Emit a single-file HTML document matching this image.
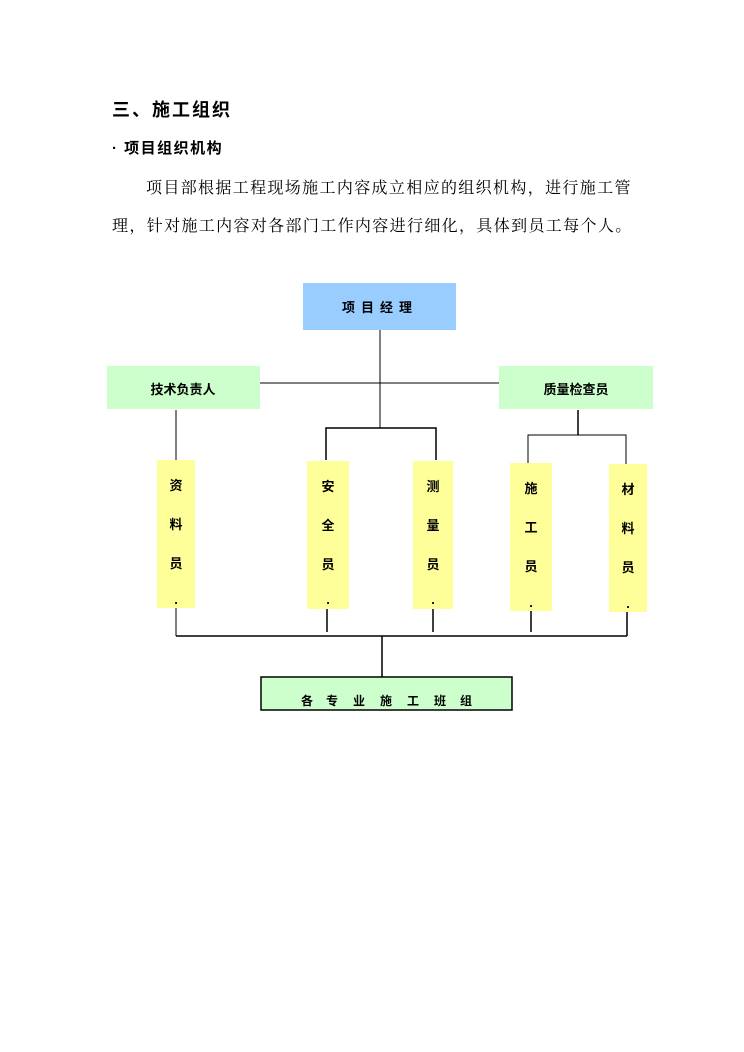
<!DOCTYPE html>
<html><head><meta charset="utf-8"><style>
body{margin:0;background:#fff;width:744px;height:1052px;position:relative;overflow:hidden;font-family:"Liberation Serif","Noto Serif CJK SC",serif;}
.t{position:absolute;white-space:nowrap;}
.c{font-family:"Noto Serif CJK SC",serif;}
</style></head><body>
<div class="t" style="left:112px;top:96px;font-size:18px;font-weight:bold;font-family:'Liberation Sans','Noto Sans CJK SC',sans-serif;letter-spacing:2px;">三、施工组织</div>
<div class="t" style="left:112px;top:137px;font-size:15px;font-weight:bold;font-family:'Liberation Sans','Noto Sans CJK SC',sans-serif;letter-spacing:1.5px;">· 项目组织机构</div>
<div class="t" style="left:146px;top:175px;font-size:16px;letter-spacing:1.35px;">项目部根据工程现场施工内容成立相应的组织机构<span class="c">，</span>进行施工管</div>
<div class="t" style="left:112px;top:213px;font-size:16px;letter-spacing:1.35px;">理<span class="c">，</span>针对施工内容对各部门工作内容进行细化<span class="c">，</span>具体到员工每个人。</div>
<svg width="744" height="1052" style="position:absolute;left:0;top:0" font-family="Liberation Sans, Noto Sans CJK SC, sans-serif" font-weight="bold">
<g stroke="#000" stroke-width="1" fill="none">
<line x1="380" y1="330" x2="380" y2="428"/>
<line x1="260" y1="383" x2="499" y2="383"/>
<line x1="176" y1="410" x2="176" y2="460"/>
<polyline points="326,460 326,428 436,428 436,460" stroke-width="1.5"/>
<line x1="578" y1="410" x2="578" y2="435" stroke-width="1.5"/>
<polyline points="528,463 528,435 626,435 626,464"/>
<line x1="176" y1="608" x2="176" y2="636"/>
<line x1="327" y1="609" x2="327" y2="632" stroke-width="1.5"/>
<line x1="433" y1="609" x2="433" y2="632" stroke-width="1.5"/>
<line x1="531" y1="611" x2="531" y2="632" stroke-width="1.5"/>
<line x1="627" y1="612" x2="627" y2="636" stroke-width="1.5"/>
<line x1="176" y1="636" x2="627" y2="636" stroke-width="1.5"/>
<line x1="382" y1="636" x2="382" y2="677" stroke-width="1.5"/>
</g>
<rect x="303" y="283" width="153" height="47" fill="#99ccff"/>
<text x="380" y="312" font-size="13" text-anchor="middle" letter-spacing="6">项目经理</text>
<rect x="107" y="366" width="153" height="43" fill="#ccffcc"/>
<text x="183" y="394" font-size="13" text-anchor="middle">技术负责人</text>
<rect x="499" y="366" width="154" height="43" fill="#ccffcc"/>
<text x="576" y="394" font-size="13" text-anchor="middle">质量检查员</text>
<g font-size="13" text-anchor="middle">
<rect x="157" y="460" width="38" height="148" fill="#ffff99"/>
<text x="176" y="490">资</text><text x="176" y="529">料</text><text x="176" y="568">员</text><text x="176" y="604">.</text>
<rect x="307" y="461" width="42" height="148" fill="#ffff99"/>
<text x="328" y="491">安</text><text x="328" y="530">全</text><text x="328" y="569">员</text><text x="328" y="604">.</text>
<rect x="413" y="461" width="40" height="148" fill="#ffff99"/>
<text x="433" y="491">测</text><text x="433" y="530">量</text><text x="433" y="569">员</text><text x="433" y="604">.</text>
<rect x="510" y="463" width="42" height="148" fill="#ffff99"/>
<text x="531" y="493">施</text><text x="531" y="532">工</text><text x="531" y="571">员</text><text x="531" y="607">.</text>
<rect x="609" y="464" width="38" height="148" fill="#ffff99"/>
<text x="628" y="494">材</text><text x="628" y="533">料</text><text x="628" y="572">员</text><text x="628" y="608">.</text>
</g>
<rect x="261" y="677" width="251" height="33" fill="#ccffcc" stroke="#000" stroke-width="1.5"/>
<g font-size="12" text-anchor="middle">
<text x="307" y="705">各</text><text x="332" y="705">专</text><text x="359" y="705">业</text><text x="386" y="705">施</text><text x="413" y="705">工</text><text x="440" y="705">班</text><text x="466" y="705">组</text>
</g>
</svg>
</body></html>
